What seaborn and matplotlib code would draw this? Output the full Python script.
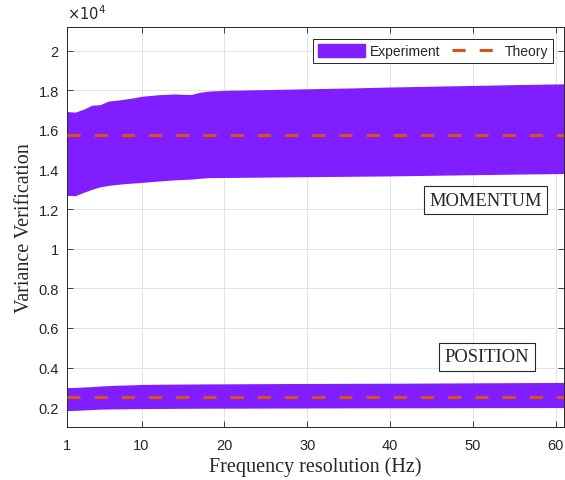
import numpy as np
import pandas as pd
import seaborn as sns
import matplotlib.pyplot as plt
from matplotlib.ticker import FuncFormatter
from matplotlib.patches import Patch
from matplotlib.lines import Line2D

# frequency resolution (Hz) where the band edges were read
freq = [1, 2, 3, 4, 5, 6, 7, 8, 9, 10, 12, 14, 15, 16, 17, 18, 20,
        25, 30, 35, 40, 45, 50, 55, 61]

# momentum band (experiment spread)
mom_upper = [16930, 16900, 17050, 17250, 17280, 17460, 17500, 17560, 17620, 17700,
             17780, 17820, 17800, 17790, 17900, 17960, 18000,
             18040, 18080, 18120, 18170, 18210, 18250, 18290, 18330]
mom_lower = [12700, 12680, 12850, 13000, 13130, 13200, 13250, 13290, 13320, 13350,
             13420, 13480, 13500, 13520, 13560, 13590, 13600,
             13620, 13640, 13660, 13680, 13710, 13740, 13770, 13800]

# position band
pos_upper = [2990, 3000, 3020, 3040, 3070, 3090, 3110, 3120, 3130, 3150,
             3160, 3165, 3170, 3170, 3175, 3178, 3180,
             3190, 3200, 3205, 3210, 3220, 3230, 3240, 3250]
pos_lower = [1830, 1840, 1860, 1880, 1900, 1910, 1915, 1920, 1925, 1930,
             1935, 1940, 1945, 1945, 1948, 1950, 1950,
             1955, 1960, 1965, 1970, 1970, 1975, 1978, 1980]

theory_mom = 15730
theory_pos = 2500

xticks = [1, 10, 20, 30, 40, 50, 60]
yticks = [2000, 4000, 6000, 8000, 10000, 12000, 14000, 16000, 18000, 20000]

PURPLE = "#801EFF"
ORANGE = "#D95319"


def main():
    sns.set_theme(style="whitegrid")
    plt.rcParams["font.family"] = ["Liberation Sans", "DejaVu Sans"]

    fig = plt.figure(figsize=(5.65, 4.81), dpi=100)
    ax = fig.add_axes([67 / 565, 1 - 428 / 481, 497 / 565, 400 / 481])
    ax.set_facecolor("white")

    ax.fill_between(freq, mom_lower, mom_upper, color=PURPLE, lw=0, zorder=2)
    ax.fill_between(freq, pos_lower, pos_upper, color=PURPLE, lw=0, zorder=2)

    theory = pd.DataFrame({
        "freq": [1, 61, 1, 61],
        "value": [theory_mom, theory_mom, theory_pos, theory_pos],
        "kind": ["mom", "mom", "pos", "pos"],
    })
    for kind, sub in theory.groupby("kind"):
        sns.lineplot(data=sub, x="freq", y="value", ax=ax, color=ORANGE,
                     lw=2.2, dashes=False, zorder=3)
    for line in ax.lines:
        line.set_dashes((4.3, 4.6))

    ax.set_xlim(1, 61)
    ax.set_ylim(1000, 21200)
    ax.set_xticks(xticks)
    ax.set_yticks(yticks)
    ax.yaxis.set_major_formatter(FuncFormatter(lambda v, p: f"{v / 1e4:g}"))
    ax.tick_params(direction="in", length=4.5, width=0.6, color="#262626",
                   labelsize=10.5, labelcolor="#262626", top=True, right=True,
                   bottom=True, left=True)
    ax.tick_params(axis="x", pad=8)
    ax.tick_params(axis="y", pad=6)
    ax.grid(True, color="#E3E3E3", lw=0.7, zorder=0)
    ax.set_axisbelow(True)
    for s in ax.spines.values():
        s.set_color("#262626")
        s.set_linewidth(0.7)
        s.set_visible(True)

    serif = ["Liberation Serif", "DejaVu Serif"]
    ax.set_xlabel("Frequency resolution (Hz)", family=serif, fontsize=14.5,
                  color="#262626", labelpad=3)
    ax.set_ylabel("Variance Verification", family=serif, fontsize=14.5,
                  color="#262626", labelpad=3)
    ax.text(0, 1.012, r"$\times10^{4}$", transform=ax.transAxes, ha="left",
            va="bottom", fontsize=10.5, color="#262626")

    box = dict(boxstyle="square,pad=0.3", fc="white", ec="#262626", lw=0.8)
    ax.text(51.5, 12460, "MOMENTUM", family=serif, fontsize=13.3, ha="center",
            va="center", bbox=box, zorder=5)
    ax.text(51.7, 4540, "POSITION", family=serif, fontsize=13.3, ha="center",
            va="center", bbox=box, zorder=5)

    handles = [Patch(color=PURPLE, label="Experiment"),
               Line2D([], [], color=ORANGE, lw=2.2, dashes=(4.3, 4.6),
                      label="Theory")]
    leg = ax.legend(handles=handles, loc="upper right", ncol=2, fontsize=10,
                    frameon=True, fancybox=False, framealpha=1,
                    edgecolor="#262626", handlelength=3.4, handleheight=1.1,
                    handletextpad=0.4, columnspacing=0.8, borderpad=0.35,
                    borderaxespad=0, bbox_to_anchor=(0.978, 0.97))
    leg.get_frame().set_linewidth(0.7)

    fig.savefig("out.png", dpi=100)
    plt.close(fig)


if __name__ == "__main__":
    main()
